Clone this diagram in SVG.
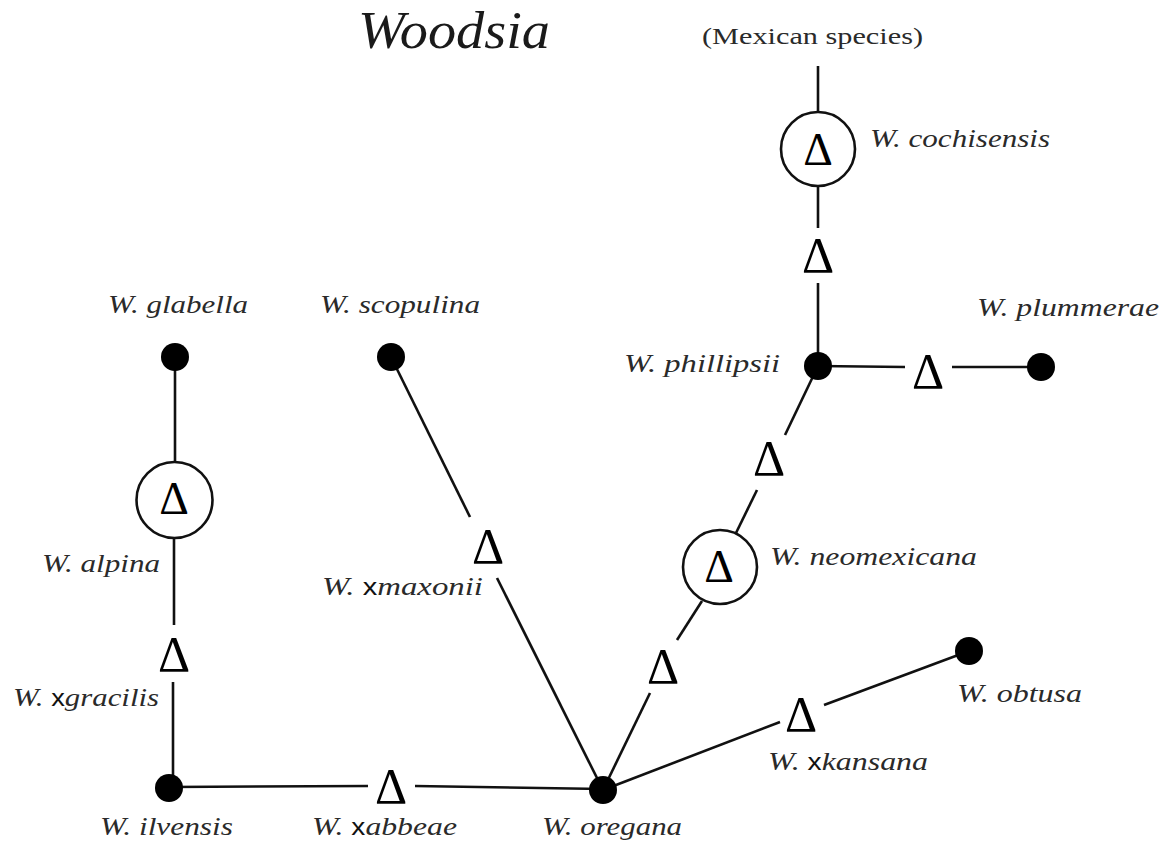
<svg xmlns="http://www.w3.org/2000/svg" width="1169" height="852" viewBox="0 0 1169 852">
<style>
.bg{fill:#ffffff}
.ln{stroke:#111;stroke-width:2.6;fill:none;stroke-linecap:butt}
.ring{stroke:#111;stroke-width:2.6;fill:#fff}
.dot{fill:#000}
.lab{font-family:"Liberation Serif",serif;font-style:italic;font-size:26px;fill:#2a2a2a}
.x{font-family:"Liberation Sans",sans-serif;font-style:normal;font-size:23px;fill:#111}
.tri{font-family:"Liberation Serif",serif;font-size:50px;fill:#000;text-anchor:middle}
.title{font-family:"Liberation Serif",serif;font-style:italic;font-size:52px;fill:#1a1a1a}
.mex{font-family:"Liberation Serif",serif;font-size:24px;fill:#2a2a2a}
</style>
<rect class="bg" x="0" y="0" width="1169" height="852"/>
<text class="title" x="358" y="48" textLength="192" lengthAdjust="spacingAndGlyphs">Woodsia</text>
<text class="mex" x="702" y="44" textLength="221" lengthAdjust="spacingAndGlyphs">(Mexican species)</text>
<g id="connectors">
<line class="ln" x1="818" y1="66" x2="818" y2="112"/>
<line class="ln" x1="818" y1="186" x2="818" y2="228"/>
<line class="ln" x1="818" y1="283" x2="818" y2="366"/>
<line class="ln" x1="818" y1="366" x2="905" y2="367"/>
<line class="ln" x1="952" y1="367" x2="1041" y2="367"/>
<line class="ln" x1="818" y1="366" x2="785" y2="435"/>
<line class="ln" x1="757" y1="490" x2="736" y2="533"/>
<line class="ln" x1="702" y1="601" x2="677" y2="640"/>
<line class="ln" x1="650" y1="693" x2="603" y2="790"/>
<line class="ln" x1="603" y1="790" x2="780" y2="722"/>
<line class="ln" x1="824" y1="705" x2="969" y2="651"/>
<line class="ln" x1="391" y1="357" x2="470" y2="517"/>
<line class="ln" x1="497" y1="578" x2="603" y2="790"/>
<line class="ln" x1="169" y1="787" x2="368" y2="786"/>
<line class="ln" x1="415" y1="786" x2="603" y2="789"/>
<line class="ln" x1="173" y1="788" x2="173" y2="682"/>
<line class="ln" x1="174" y1="625" x2="174" y2="538"/>
<line class="ln" x1="175" y1="462" x2="175" y2="357"/>
</g>
<g id="cochisensis">
<circle class="ring" cx="818" cy="149" r="37"/>
<text class="tri" x="818" y="165" style="font-size:46px">Δ</text>
<text class="lab" x="870" y="147" textLength="180" lengthAdjust="spacingAndGlyphs">W. cochisensis</text>
</g>
<g id="d-cochisensis"><text class="tri" x="818" y="272">Δ</text></g>
<g id="phillipsii">
<circle class="dot" cx="818" cy="366" r="14"/>
<text class="lab" x="624" y="372" textLength="156" lengthAdjust="spacingAndGlyphs">W. phillipsii</text>
</g>
<g id="d-plummerae"><text class="tri" x="928" y="388">Δ</text></g>
<g id="plummerae">
<circle class="dot" cx="1041" cy="367" r="14"/>
<text class="lab" x="977" y="316" textLength="182" lengthAdjust="spacingAndGlyphs">W. plummerae</text>
</g>
<g id="d-phillipsii"><text class="tri" x="769" y="475">Δ</text></g>
<g id="neomexicana">
<circle class="ring" cx="720" cy="567" r="37"/>
<text class="tri" x="719" y="582" style="font-size:46px">Δ</text>
<text class="lab" x="770" y="565" textLength="207" lengthAdjust="spacingAndGlyphs">W. neomexicana</text>
</g>
<g id="d-neomexicana"><text class="tri" x="663" y="683">Δ</text></g>
<g id="obtusa">
<circle class="dot" cx="969" cy="651" r="14"/>
<text class="lab" x="957" y="702" textLength="125" lengthAdjust="spacingAndGlyphs">W. obtusa</text>
</g>
<g id="kansana">
<text class="tri" x="801" y="731">Δ</text>
<text class="lab" x="768" y="770" textLength="160" lengthAdjust="spacingAndGlyphs">W. <tspan class="x">x</tspan>kansana</text>
</g>
<g id="oregana">
<circle class="dot" cx="603" cy="790" r="14"/>
<text class="lab" x="542" y="835" textLength="140" lengthAdjust="spacingAndGlyphs">W. oregana</text>
</g>
<g id="scopulina">
<circle class="dot" cx="391" cy="357" r="14"/>
<text class="lab" x="320" y="313" textLength="160" lengthAdjust="spacingAndGlyphs">W. scopulina</text>
</g>
<g id="maxonii">
<text class="tri" x="488" y="563">Δ</text>
<text class="lab" x="322" y="595" textLength="161" lengthAdjust="spacingAndGlyphs">W. <tspan class="x">x</tspan>maxonii</text>
</g>
<g id="abbeae">
<text class="tri" x="391" y="803">Δ</text>
<text class="lab" x="312" y="835" textLength="145" lengthAdjust="spacingAndGlyphs">W. <tspan class="x">x</tspan>abbeae</text>
</g>
<g id="ilvensis">
<circle class="dot" cx="169" cy="788" r="14"/>
<text class="lab" x="100" y="835" textLength="133" lengthAdjust="spacingAndGlyphs">W. ilvensis</text>
</g>
<g id="gracilis">
<text class="tri" x="174" y="671">Δ</text>
<text class="lab" x="13" y="706" textLength="146" lengthAdjust="spacingAndGlyphs">W. <tspan class="x">x</tspan>gracilis</text>
</g>
<g id="alpina">
<circle class="ring" cx="174.5" cy="500" r="38"/>
<text class="tri" x="174" y="514" style="font-size:46px">Δ</text>
<text class="lab" x="42" y="572" textLength="118" lengthAdjust="spacingAndGlyphs">W. alpina</text>
</g>
<g id="glabella">
<circle class="dot" cx="175" cy="357" r="14"/>
<text class="lab" x="108" y="313" textLength="140" lengthAdjust="spacingAndGlyphs">W. glabella</text>
</g>
</svg>
